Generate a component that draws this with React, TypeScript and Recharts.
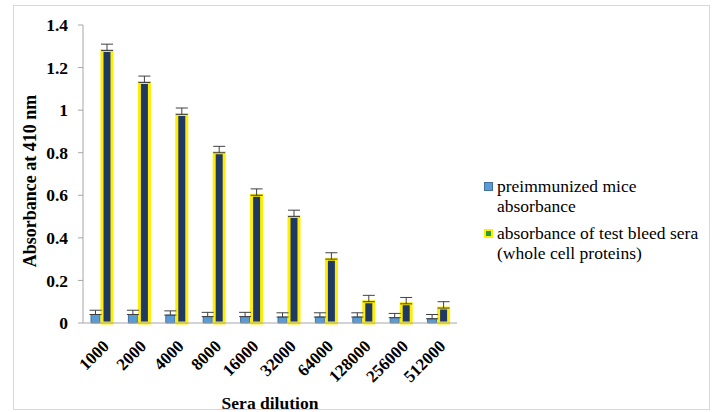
import { BarChart, Bar, XAxis, YAxis, ErrorBar } from 'recharts';

// sera dilutions on the x axis
const dilutions = ['1000', '2000', '4000', '8000', '16000', '32000', '64000', '128000', '256000', '512000'];
// preimmunized mice absorbance and its upper error
const preValues = [0.04, 0.04, 0.037, 0.03, 0.03, 0.028, 0.028, 0.028, 0.025, 0.02];
const preErrors = [0.02, 0.02, 0.02, 0.02, 0.02, 0.02, 0.02, 0.02, 0.02, 0.02];
// test bleed sera absorbance and its upper error
const testValues = [1.28, 1.13, 0.98, 0.8, 0.6, 0.5, 0.3, 0.1, 0.09, 0.07];
const testErrors = [0.03, 0.03, 0.03, 0.03, 0.03, 0.03, 0.03, 0.03, 0.03, 0.03];
const yTicks = [0, 0.2, 0.4, 0.6, 0.8, 1, 1.2, 1.4];

const data = dilutions.map((d, i) => ({
  dilution: d,
  pre: preValues[i],
  preErr: [0, preErrors[i]],
  test: testValues[i],
  testErr: [0, testErrors[i]],
}));

const serif = 'Liberation Serif';

const XTick = (props: any) => {
  const { x, y, payload } = props;
  return (
    <g transform={`translate(${x + 4},${y + 12})`}>
      <text
        transform="rotate(-45)"
        textAnchor="end"
        fontFamily={serif}
        fontWeight="bold"
        fontSize={17}
        fill="#000"
        dy={6}
      >
        {payload.value}
      </text>
    </g>
  );
};

const ChartLegend = () => (
  <div
    style={{
      position: 'absolute',
      left: 484,
      top: 176,
      width: 228,
      fontFamily: serif,
      fontSize: 17.5,
      color: '#000',
      lineHeight: '20px',
    }}
  >
    <div style={{ display: 'flex', alignItems: 'flex-start' }}>
      <span
        style={{
          width: 7,
          height: 7,
          marginTop: 6,
          marginRight: 4,
          background: '#5b9bd5',
          border: '1px solid #41719c',
          flex: 'none',
        }}
      />
      <span>
        preimmunized mice
        <br />
        absorbance
      </span>
    </div>
    <div style={{ display: 'flex', alignItems: 'flex-start', marginTop: 7 }}>
      <span
        style={{
          width: 5,
          height: 5,
          marginTop: 6,
          marginRight: 4,
          background: '#1f9e3a',
          border: '2px solid #ffee00',
          flex: 'none',
        }}
      />
      <span>
        absorbance of test bleed sera
        <br />
        (whole cell proteins)
      </span>
    </div>
  </div>
);

export default function App() {
  return (
    <div style={{ position: 'absolute', left: 0, top: 0, width: 716, height: 412, background: '#fff' }}>
      <div
        style={{
          position: 'absolute',
          left: 13,
          top: 5,
          width: 697,
          height: 405,
          border: '1px solid #d9d9d9',
          boxSizing: 'border-box',
        }}
      />
      <div style={{ position: 'absolute', left: 0, top: 0 }}>
        <BarChart
          width={716}
          height={412}
          data={data}
          margin={{ top: 25, right: 259, left: 0, bottom: 0 }}
          barGap={2}
        >
          <XAxis
            dataKey="dilution"
            height={89}
            axisLine={{ stroke: '#a6a6a6' }}
            tickLine={false}
            interval={0}
            tick={<XTick />}
            label={{
              value: 'Sera dilution',
              position: 'insideBottom',
              offset: 3,
              style: { fontFamily: serif, fontWeight: 'bold', fontSize: 17.5, fill: '#000' },
            }}
          />
          <YAxis
            width={83}
            domain={[0, 1.4]}
            ticks={yTicks}
            axisLine={{ stroke: '#a6a6a6' }}
            tickLine={{ stroke: '#a6a6a6' }}
            tickSize={5}
            tickMargin={10}
            tick={{ fontFamily: serif, fontWeight: 'bold', fontSize: 17.5, fill: '#000' }}
            label={{
              value: 'Absorbance at 410 nm',
              angle: -90,
              position: 'insideLeft',
              offset: 0,
              dx: 30,
              dy: 7,
              style: { fontFamily: serif, fontWeight: 'bold', fontSize: 18, fill: '#000', textAnchor: 'middle' },
            }}
          />
          <Bar dataKey="pre" fill="#5b9bd5" stroke="#41719c" strokeWidth={1} barSize={9} isAnimationActive={false}>
            <ErrorBar dataKey="preErr" width={6} stroke="#404040" strokeWidth={1} direction="y" />
          </Bar>
          <Bar dataKey="test" fill="#1f3864" stroke="#ffee00" strokeWidth={3} barSize={10} isAnimationActive={false}>
            <ErrorBar dataKey="testErr" width={6} stroke="#404040" strokeWidth={1} direction="y" />
          </Bar>
        </BarChart>
      </div>
      <ChartLegend />
    </div>
  );
}
